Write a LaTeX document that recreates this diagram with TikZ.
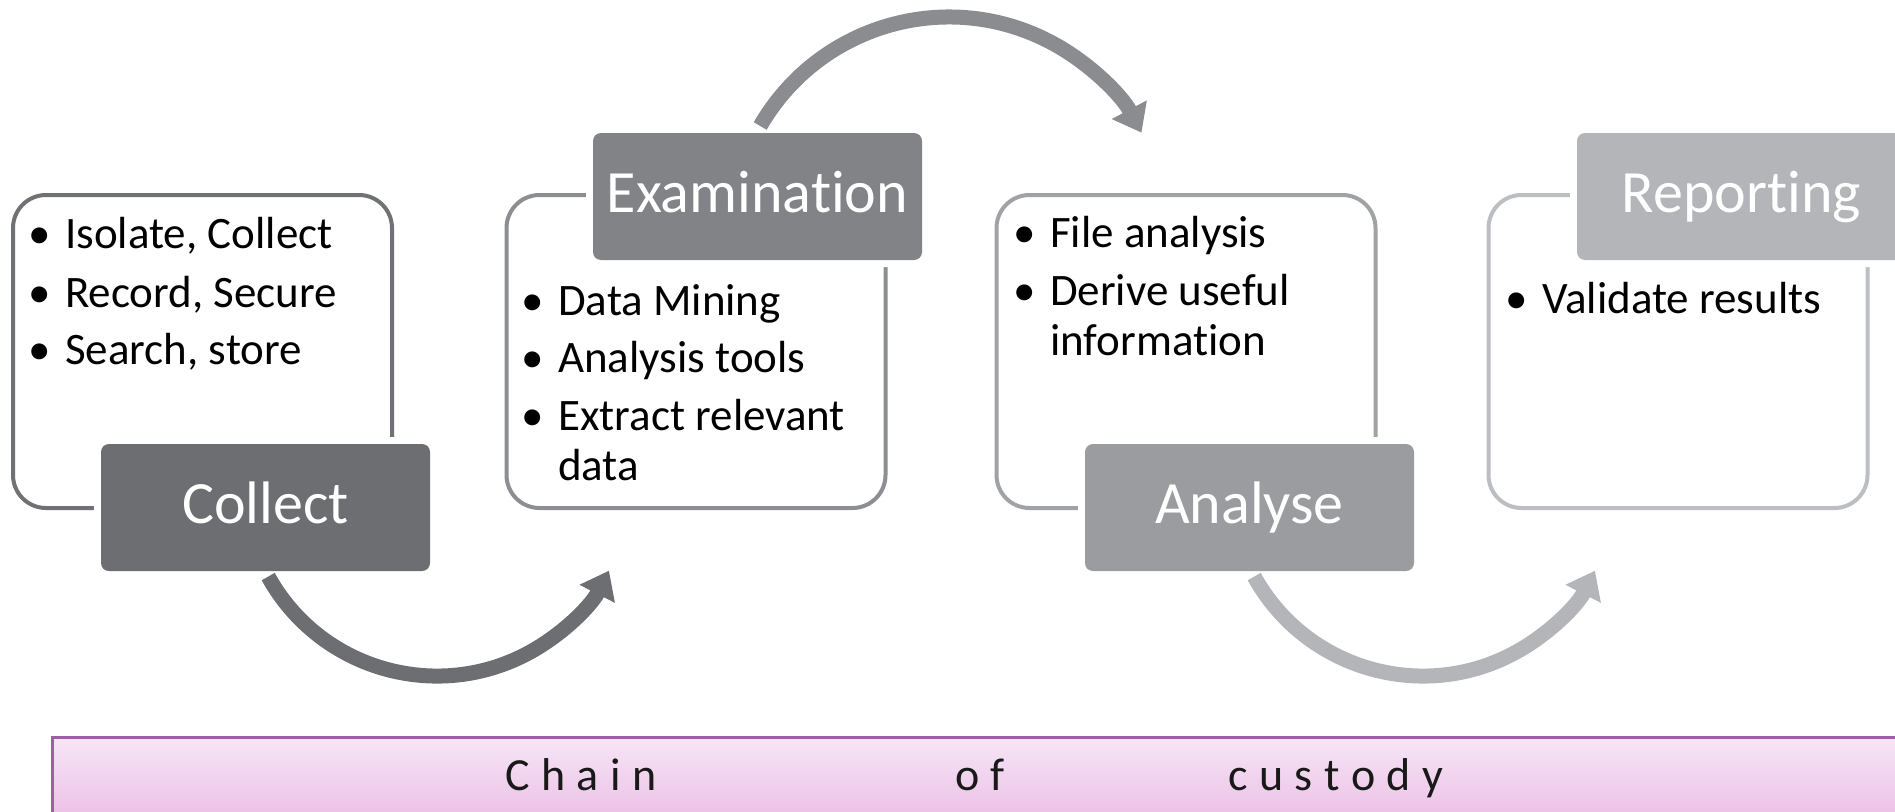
\documentclass[tikz,border=0pt]{standalone}
\usepackage{fontspec}
\setmainfont{Carlito}[Ligatures=NoCommon]
\usetikzlibrary{arrows.meta}
\definecolor{cA}{HTML}{6D6E71}
\definecolor{cB}{HTML}{818387}
\definecolor{cC}{HTML}{9A9C9F}
\definecolor{cD}{HTML}{B3B5B8}
\definecolor{oA}{HTML}{707174}
\definecolor{oB}{HTML}{8C8E91}
\definecolor{oC}{HTML}{A0A2A5}
\definecolor{oD}{HTML}{BCBEC1}
\definecolor{aB}{HTML}{8A8C90}
\definecolor{bandtop}{HTML}{F6E6F5}
\definecolor{bandbot}{HTML}{E8B2E2}
\definecolor{bandline}{HTML}{A45BA8}
\newcommand\spacedword[1]{\spacedaux#1\relax}
\def\spacedaux#1{\ifx#1\relax\else#1\kern11.5pt\relax\expandafter\spacedaux\fi}
\newcommand\bul{\llap{\textbullet\hspace{14pt}}}
\tikzset{
  frm/.style={draw=#1, line width=4pt, rounded corners=33pt, minimum width=379pt, minimum height=313pt, inner sep=0pt},
  stagebox/.style={fill=#1, rounded corners=8pt, minimum width=329pt, minimum height=127pt, inner sep=0pt,
    text=white, font=\fontsize{60}{60}\selectfont, text height=40pt, text depth=9pt,
    preaction={draw=white, line width=14pt}},
  bullettext/.style={anchor=base west, inner sep=0pt, font=\fontsize{45}{45}\selectfont},
  arrowflow/.style={draw=#1, line width=15pt, -{Triangle[length=26pt,width=38pt]}},
  bandword/.style={anchor=base west, inner sep=0pt, font=\fontsize{46}{46}\selectfont, text=black!90},
}
\begin{document}
\begin{tikzpicture}[x=1pt,y=-1pt]
\useasboundingbox (0,0) rectangle (1895,811);
\clip (0,0) rectangle (1895,811);
% outlined boxes
\node[frm=oA] (f1) at (202.5,351.5) {};
\node[frm=oB] (f2) at (696,351.5) {};
\node[frm=oC] (f3) at (1186,351.5) {};
\node[frm=oD] (f4) at (1678,351.5) {};
% stage labels
\node[stagebox=cA] (collect) at (265.5,507.5) {Collect};
\node[stagebox=cB] (exam) at (757.5,196.5) {Examination};
\node[stagebox=cC] (analyse) at (1249.5,507.5) {Analyse};
\node[stagebox=cD] (report) at (1741.5,196.5) {Reporting};
% bullet texts
\node[bullettext] (t11) at (65,248) {\bul Isolate, Collect};
\node[bullettext] (t12) at (65,307) {\bul Record, Secure};
\node[bullettext] (t13) at (65,364) {\bul Search, store};
\node[bullettext] (t21) at (558,315) {\bul Data Mining};
\node[bullettext] (t22) at (558,372) {\bul Analysis tools};
\node[bullettext] (t23) at (558,430) {\bul Extract relevant};
\node[bullettext] (t24) at (558,480) {data};
\node[bullettext] (t31) at (1050,247) {\bul File analysis};
\node[bullettext] (t32) at (1050,305) {\bul Derive useful};
\node[bullettext] (t33) at (1050,355) {information};
\node[bullettext] (t41) at (1542,313) {\bul Validate results};
% curved arrows
\coordinate (a1s) at (268.2,576.6);
\coordinate (a2s) at (760.2,126);
\coordinate (a3s) at (1254.2,576.6);
\draw[arrowflow=cA] (a1s) arc[start angle=151, end angle=27, radius=193];
\draw[arrowflow=aB] (a2s) arc[start angle=210, end angle=332, radius=218];
\draw[arrowflow=cD] (a3s) arc[start angle=151, end angle=27, radius=193];
% chain of custody band
\node[draw=bandline, line width=2.5pt, top color=bandtop, bottom color=bandbot, anchor=north west,
      minimum width=1880pt, minimum height=110pt, inner sep=0pt] (band) at (51,736) {};
\node[bandword] (w1) at (505,790) {\spacedword{Chain}};
\node[bandword] (w2) at (955,790) {\spacedword{of}};
\node[bandword] (w3) at (1228,790) {\spacedword{custody}};
\end{tikzpicture}
\end{document}
